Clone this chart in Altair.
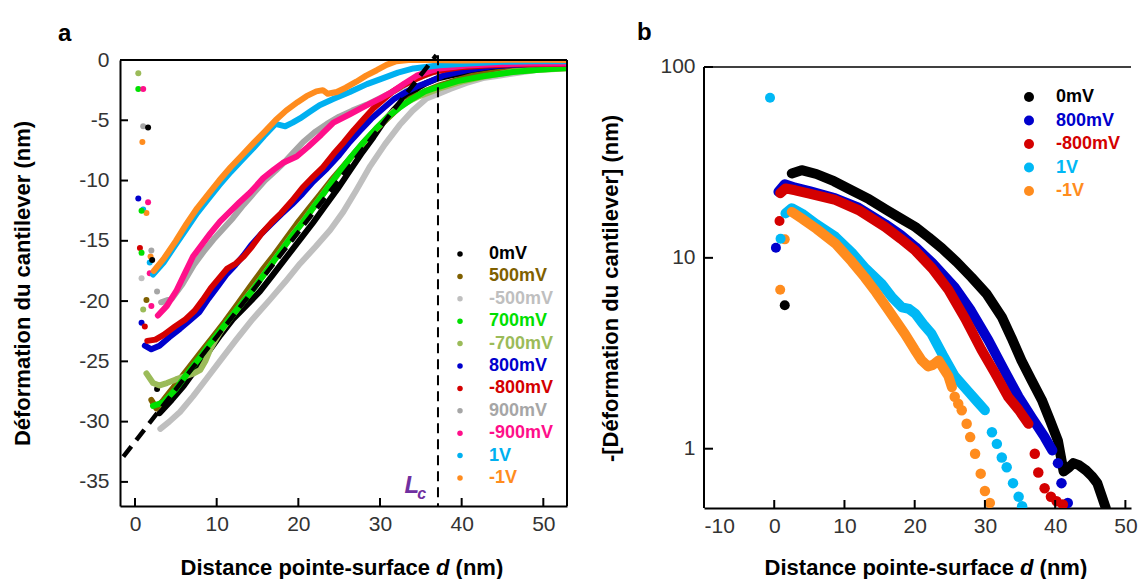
import altair as alt
import pandas as pd

FONT = "Liberation Sans"
LABEL_GRAY = "#333333"

# ---------------- panel a : data ----------------
series_a = ["0mV", "500mV", "-500mV", "700mV", "-700mV", "800mV", "-800mV", "900mV", "-900mV", "1V", "-1V"]
colors_a = ["#000000", "#7f6000", "#bfbfbf", "#00e000", "#9bbb59", "#0000cc", "#d40000", "#a6a6a6", "#ff0f8a", "#00b0f0", "#ff8c1e"]
draw_order_a = ["-500mV", "900mV", "0mV", "500mV", "-700mV", "700mV", "800mV", "-800mV", "-900mV", "1V", "-1V"]

a_0mV_x = [3.0, 4.5, 6.0, 7.5, 9.0, 10.5, 12.0, 13.6, 15.3, 16.9, 18.5, 20.2, 21.8, 23.3, 24.8, 26.3, 27.9, 29.2, 30.4, 31.6, 32.7, 33.7, 34.7, 35.7, 37.0, 38.6, 40.6, 42.6, 45.9, 49.5, 53.0]
a_0mV_y = [-29.3, -28.2, -27.0, -25.6, -24.2, -22.8, -21.5, -20.4, -19.2, -17.8, -16.4, -14.9, -13.5, -12.1, -10.7, -9.2, -7.6, -6.4, -5.2, -4.2, -3.4, -2.8, -2.3, -1.9, -1.55, -1.3, -1.05, -0.85, -0.7, -0.6, -0.5]

a_500_x = [2.0, 2.6, 3.5, 5.0, 6.5, 8.0, 9.5, 11.0, 12.5, 14.1, 15.5, 17.0, 18.5, 19.8, 21.2, 22.6, 24.0, 25.4, 26.8, 28.2, 29.6, 31.0, 32.4, 33.7, 35.5, 37.3, 39.3, 41.4, 43.8, 46.3, 49.5, 53.0]
a_500_y = [-28.2, -28.9, -28.2, -26.9, -25.6, -24.3, -23.0, -21.7, -20.3, -18.8, -17.5, -16.2, -14.8, -13.6, -12.4, -11.2, -10.0, -8.9, -7.8, -6.7, -5.7, -4.8, -3.9, -3.2, -2.6, -2.1, -1.7, -1.3, -1.05, -0.85, -0.7, -0.6]

a_m500_x = [3.1, 4.2, 5.5, 7.1, 8.8, 10.6, 12.4, 14.4, 16.5, 18.4, 20.2, 22.1, 23.9, 25.5, 27.1, 28.8, 30.6, 32.4, 34.0, 35.7, 37.2, 38.6, 40.6, 42.6, 44.5, 46.5, 49.5, 53.0]
a_m500_y = [-30.6, -30.0, -29.2, -27.9, -26.4, -24.8, -23.2, -21.5, -19.9, -18.4, -16.9, -15.5, -14.1, -12.6, -10.8, -8.8, -7.0, -5.4, -4.2, -3.2, -2.8, -2.4, -1.9, -1.5, -1.3, -1.1, -0.8, -0.6]

a_700_x = [2.2, 3.5, 5.0, 6.3, 7.8, 9.2, 10.6, 12.0, 13.3, 14.5, 16.0, 17.5, 19.0, 20.5, 22.0, 23.5, 25.0, 26.5, 28.0, 29.5, 31.0, 32.5, 34.0, 35.5, 37.3, 39.5, 42.6, 46.3, 49.5, 53.0]
a_700_y = [-28.7, -28.4, -27.3, -26.1, -24.8, -23.5, -22.3, -21.1, -20.0, -19.0, -17.6, -16.2, -14.8, -13.5, -12.1, -10.7, -9.3, -8.0, -6.8, -5.7, -4.7, -3.9, -3.2, -2.6, -2.2, -1.75, -1.35, -1.0, -0.8, -0.65]

a_m700_x = [1.4, 2.2, 3.0, 3.9, 5.0, 6.3, 7.2, 8.0, 8.6, 9.2, 10.4, 11.8, 13.3, 14.8, 16.3, 17.8, 19.3, 20.8, 22.3, 23.8, 25.3, 26.8, 28.3, 29.8, 31.1, 32.4, 34.8, 37.3, 40.0, 42.6, 46.3, 49.5, 53.0]
a_m700_y = [-26.0, -26.8, -27.0, -26.8, -26.5, -26.2, -26.0, -25.7, -25.0, -24.0, -22.6, -21.3, -20.0, -18.7, -17.3, -15.9, -14.5, -13.2, -11.8, -10.4, -9.1, -7.8, -6.6, -5.5, -4.6, -3.8, -3.0, -2.35, -1.8, -1.4, -0.95, -0.8, -0.7]

a_800_x = [1.2, 2.0, 3.0, 4.2, 5.5, 6.7, 7.9, 9.0, 10.1, 11.2, 12.3, 13.3, 14.3, 15.5, 16.7, 17.9, 19.2, 20.5, 21.8, 23.5, 25.0, 26.3, 27.5, 28.9, 30.4, 31.8, 33.3, 34.5, 35.7, 37.7, 40.6, 44.0, 48.0, 53.0]
a_800_y = [-23.7, -24.0, -23.7, -23.0, -22.3, -21.6, -20.9, -19.8, -18.8, -17.8, -17.0, -16.2, -15.3, -14.4, -13.6, -12.8, -12.0, -11.1, -10.1, -9.0, -7.9, -6.8, -5.9, -4.9, -4.0, -3.2, -2.6, -2.2, -1.9, -1.3, -0.85, -0.5, -0.35, -0.3]

a_m800_x = [1.5, 2.5, 3.5, 4.9, 6.2, 7.3, 8.3, 9.3, 10.3, 11.3, 12.3, 13.3, 14.3, 15.5, 16.7, 17.9, 19.2, 20.5, 21.8, 23.0, 24.3, 25.6, 26.8, 28.0, 29.2, 30.4, 31.6, 32.8, 34.0, 35.3, 36.5, 38.0, 39.8, 43.0, 47.0, 53.0]
a_m800_y = [-23.3, -23.2, -22.8, -22.1, -21.5, -20.8, -19.9, -18.9, -18.1, -17.3, -16.9, -16.3, -15.5, -14.4, -13.5, -12.7, -11.7, -10.6, -9.7, -8.9, -7.8, -6.8, -5.8, -4.9, -4.0, -3.3, -2.6, -2.1, -1.7, -1.3, -1.0, -0.8, -0.6, -0.45, -0.35, -0.3]

a_900_x = [3.2, 4.5, 5.8, 7.2, 8.4, 9.6, 10.8, 12.0, 13.3, 14.6, 15.9, 17.2, 18.4, 19.5, 20.6, 22.0, 23.5, 25.0, 26.6, 28.4, 30.5, 32.5, 34.5, 37.0, 40.0, 44.0, 48.0, 53.0]
a_900_y = [-20.1, -19.8, -18.6, -17.0, -15.9, -14.9, -14.0, -13.1, -12.0, -11.0, -10.0, -9.2, -8.4, -7.6, -6.8, -6.0, -5.3, -4.7, -4.2, -3.7, -3.0, -2.3, -1.5, -0.9, -0.55, -0.4, -0.3, -0.3]

a_m900_x = [2.8, 3.9, 5.1, 6.1, 7.1, 8.2, 9.2, 10.4, 11.6, 12.8, 14.1, 15.7, 17.0, 18.2, 19.8, 21.2, 22.8, 24.3, 26.3, 28.4, 30.0, 31.6, 33.0, 34.5, 36.0, 37.3, 40.6, 44.0, 48.0, 53.0]
a_m900_y = [-21.2, -20.4, -19.1, -17.7, -16.3, -15.3, -14.4, -13.4, -12.6, -11.8, -11.0, -9.8, -9.1, -8.5, -8.0, -7.2, -6.2, -5.2, -4.5, -3.75, -3.2, -2.6, -1.95, -1.3, -0.95, -0.7, -0.45, -0.35, -0.3, -0.3]

a_1V_x = [2.2, 3.5, 5.0, 6.3, 7.6, 9.0, 10.3, 11.7, 13.1, 14.5, 15.8, 17.2, 18.4, 19.3, 20.2, 21.4, 22.6, 24.4, 26.3, 28.4, 30.4, 32.2, 34.1, 37.3, 41.4, 45.0, 49.0, 53.0]
a_1V_y = [-17.8, -16.8, -15.3, -14.0, -12.7, -11.5, -10.4, -9.3, -8.3, -7.3, -6.3, -5.3, -5.5, -5.2, -4.85, -4.3, -3.75, -3.2, -2.65, -2.0, -1.5, -1.05, -0.7, -0.44, -0.27, -0.15, -0.1, -0.1]

a_m1V_x = [2.3, 3.5, 5.0, 6.3, 7.6, 9.0, 10.3, 11.7, 13.1, 14.5, 15.8, 17.2, 18.5, 19.9, 21.0, 22.2, 23.0, 23.6, 24.7, 25.8, 27.1, 28.3, 29.6, 30.8, 32.0, 33.5, 36.0, 40.0, 44.0, 48.0, 53.0]
a_m1V_y = [-17.5, -16.5, -15.0, -13.6, -12.3, -11.1, -10.0, -8.9, -7.9, -6.9, -6.0, -5.0, -4.2, -3.5, -3.0, -2.6, -2.5, -2.8, -2.65, -2.3, -1.8, -1.3, -0.85, -0.4, -0.1, 0.0, 0.0, -0.05, 0.0, 0.05, 0.0]

# isolated points measured before contact (jump points)
a_jump_series = ["-700mV", "700mV", "-900mV", "900mV", "0mV", "-1V",
                 "800mV", "-900mV", "1V", "-1V", "700mV",
                 "-800mV", "700mV", "1V", "-1V", "900mV", "0mV", "-900mV",
                 "-500mV", "900mV", "500mV", "-700mV", "-900mV",
                 "800mV", "-800mV", "0mV"]
a_jump_x = [0.4, 0.4, 1.0, 1.0, 1.6, 0.9,
            0.4, 1.6, 1.0, 1.4, 0.8,
            0.6, 0.8, 1.8, 1.9, 2.0, 2.1, 1.8,
            0.8, 2.7, 1.4, 1.0, 2.0,
            0.8, 1.2, 2.7]
a_jump_y = [-1.1, -2.4, -2.4, -5.5, -5.6, -6.8,
            -11.5, -11.8, -12.4, -12.7, -12.5,
            -15.6, -16.0, -16.8, -16.3, -15.8, -16.6, -17.7,
            -18.1, -19.2, -19.9, -20.7, -20.4,
            -21.8, -22.1, -27.3]

fit_x = [-1.43, 36.9]
fit_y = [-32.9, 0.4]
lc_pos_x = [37.1]
lc_y_top = [0.4]
lc_y_bot = [-37.0]
lc_label_x = [33.9, 35.1]
lc_label_y = [-35.3, -36.0]
lc_label_t = ["L", "c"]

ticks_a_x = [0, 10, 20, 30, 40, 50]
ticks_a_y = [0, -5, -10, -15, -20, -25, -30, -35]

# ---------------- panel b : data ----------------
series_b = ["0mV", "800mV", "-800mV", "1V", "-1V"]
colors_b = ["#000000", "#0000cc", "#d40000", "#00b8f5", "#ff8c1e"]
draw_order_b = ["0mV", "800mV", "-800mV", "1V", "-1V"]

b_0mV_x = [2.5, 3.9, 6.0, 8.5, 11.0, 13.5, 16.0, 18.0, 20.1, 22.0, 23.9, 26.0, 28.1, 30.2, 32.4, 33.8, 35.2, 36.6, 38.1, 39.3, 40.4, 41.2, 42.0, 42.6, 43.4, 44.4, 45.2, 46.0, 46.6, 47.2]
b_0mV_y = [27.7, 28.8, 27.5, 25.2, 22.6, 20.3, 17.8, 16.1, 14.5, 12.8, 11.2, 9.5, 7.9, 6.5, 4.9, 3.8, 2.9, 2.3, 1.8, 1.4, 1.1, 0.76, 0.80, 0.84, 0.82, 0.77, 0.72, 0.66, 0.57, 0.49]

b_800_x = [0.6, 1.5, 3.0, 5.0, 8.7, 12.0, 15.8, 18.0, 20.1, 22.5, 25.7, 28.0, 30.5, 32.7, 34.8, 36.7, 38.5, 39.6]
b_800_y = [22.2, 24.3, 23.3, 22.4, 20.5, 18.3, 15.0, 13.2, 11.4, 9.4, 7.0, 5.3, 3.7, 2.6, 1.87, 1.45, 1.15, 0.98]
b_800_dot_x = [40.4, 40.9, 41.8]
b_800_dot_y = [0.84, 0.66, 0.52]

b_m800_x = [0.85, 1.6, 3.0, 5.0, 8.7, 12.0, 15.8, 18.0, 20.1, 22.5, 24.8, 27.2, 29.5, 31.4, 33.3, 34.8, 36.2]
b_m800_y = [21.8, 23.1, 22.6, 21.7, 20.1, 17.8, 14.5, 12.6, 10.9, 8.8, 6.8, 4.8, 3.3, 2.5, 1.87, 1.6, 1.35]
b_m800_dot_x = [37.1, 37.6, 38.5, 39.4, 40.2, 41.1]
b_m800_dot_y = [0.94, 0.75, 0.62, 0.56, 0.53, 0.51]

b_1V_x = [1.6, 2.5, 4.0, 6.0, 8.7, 11.0, 13.0, 15.3, 16.8, 18.2, 19.2, 20.1, 21.2, 22.4, 24.0, 25.7, 27.6, 29.0, 30.0]
b_1V_y = [17.1, 18.2, 17.0, 15.0, 12.9, 10.7, 8.8, 7.3, 6.2, 5.5, 5.4, 5.1, 4.5, 4.0, 3.1, 2.4, 2.0, 1.75, 1.59]
b_1V_dot_x = [31.0, 31.7, 32.4, 33.1, 34.0, 34.8, 35.3]
b_1V_dot_y = [1.22, 1.06, 0.90, 0.80, 0.66, 0.56, 0.50]

b_m1V_x = [2.5, 4.0, 6.0, 8.7, 11.0, 12.9, 14.5, 16.3, 18.6, 20.0, 21.0, 21.9, 22.6, 23.4, 24.2, 24.8, 25.3]
b_m1V_y = [17.4, 16.0, 14.2, 11.9, 9.6, 7.9, 6.6, 5.3, 4.0, 3.3, 2.9, 2.7, 2.75, 2.9, 2.6, 2.4, 2.1]
b_m1V_dot_x = [25.7, 26.2, 26.7, 27.4, 27.9, 28.6, 29.4, 30.0, 30.7]
b_m1V_dot_y = [1.87, 1.72, 1.59, 1.35, 1.15, 0.94, 0.74, 0.60, 0.52]

b_jump_series = ["1V", "-1V", "-1V", "0mV", "-800mV", "800mV", "1V"]
b_jump_x = [-0.6, 1.5, 0.85, 1.5, 0.75, 0.24, 0.9]
b_jump_y = [69.0, 12.5, 6.8, 5.65, 15.6, 11.3, 12.6]

ticks_b_x = [-10, 0, 10, 20, 30, 40, 50]
ticks_b_y = [1, 10, 100]
frame_b_lo = [0.489]
frame_b_hi = [100]

# ---------------- tables ----------------
curves_a = {
    "0mV": (a_0mV_x, a_0mV_y), "500mV": (a_500_x, a_500_y), "-500mV": (a_m500_x, a_m500_y),
    "700mV": (a_700_x, a_700_y), "-700mV": (a_m700_x, a_m700_y), "800mV": (a_800_x, a_800_y),
    "-800mV": (a_m800_x, a_m800_y), "900mV": (a_900_x, a_900_y), "-900mV": (a_m900_x, a_m900_y),
    "1V": (a_1V_x, a_1V_y), "-1V": (a_m1V_x, a_m1V_y),
}
curves_b = {
    "0mV": (b_0mV_x, b_0mV_y), "800mV": (b_800_x, b_800_y), "-800mV": (b_m800_x, b_m800_y),
    "1V": (b_1V_x, b_1V_y), "-1V": (b_m1V_x, b_m1V_y),
}
dots_b = {
    "800mV": (b_800_dot_x, b_800_dot_y), "-800mV": (b_m800_dot_x, b_m800_dot_y),
    "1V": (b_1V_dot_x, b_1V_dot_y), "-1V": (b_m1V_dot_x, b_m1V_dot_y),
}


def curve_df(name, xs, ys):
    return pd.DataFrame({"series": name, "x": xs, "y": ys, "j": list(range(len(xs)))})


def label_color_expr(names, cols):
    arr_c = "[" + ",".join("'%s'" % c for c in cols) + "]"
    arr_n = "[" + ",".join("'%s'" % n for n in names) + "]"
    return "%s[indexof(%s, datum.value)]" % (arr_c, arr_n)


def text_layer(txt, x, y, **kw):
    return alt.Chart(pd.DataFrame({"t": [txt]})).mark_text(**kw).encode(
        x=alt.value(x), y=alt.value(y), text="t:N")


def xtitle_layers(y):
    common = dict(font=FONT, fontSize=22, fontWeight="bold", color="black", baseline="middle")
    return [
        text_layer("Distance pointe-surface", 310, y, align="right", **common),
        text_layer("d", 322.8, y, align="center", fontStyle="italic", **common),
        text_layer("(nm)", 335.6, y, align="left", **common),
    ]


HYPHEN = "'' + datum.value"

# ---------------- panel a ----------------
W_A, H_A = 447, 446
x_a = alt.Scale(domain=[-1.84, 52.9], nice=False, zero=False)
y_a = alt.Scale(domain=[-37, 0], nice=False, zero=False)
c_a = alt.Scale(domain=series_a, range=colors_a)

legend_a = alt.Legend(
    title="", orient="none", legendX=331, legendY=185, direction="vertical",
    symbolType="circle", symbolSize=30, symbolStrokeWidth=0,
    labelFont=FONT, labelFontSize=18, labelFontWeight="bold",
    labelColor=alt.ExprRef(expr=label_color_expr(series_a, colors_a)),
    labelOffset=20, rowPadding=4.4, padding=0,
)

jump_a_df = pd.DataFrame({"series": a_jump_series, "x": a_jump_x, "y": a_jump_y})
jump_a = alt.Chart(jump_a_df).mark_circle(size=36, opacity=1, clip=True).encode(
    x=alt.X("x:Q", scale=x_a, title="",
            axis=alt.Axis(values=ticks_a_x, labelExpr=HYPHEN, labelPadding=7, labelFontSize=21, ticks=False,
                          domain=True, domainColor="black", domainWidth=2, grid=False)),
    y=alt.Y("y:Q", scale=y_a, title="Déformation du cantilever (nm)",
            axis=alt.Axis(values=ticks_a_y, labelExpr=HYPHEN, labelPadding=11, labelFontSize=21, ticks=False,
                          domain=True, domainColor="black", domainWidth=2, grid=False,
                          titleX=-98, titleY=H_A / 2, titleAngle=-90, titleBaseline="middle",
                          titleAlign="center", titleFontSize=22, titleFontWeight="bold",
                          titleFont=FONT, titleColor="black")),
    color=alt.Color("series:N", scale=c_a, legend=legend_a),
)

line_layers_a = []
for s in draw_order_a:
    xs, ys = curves_a[s]
    line_layers_a.append(
        alt.Chart(curve_df(s, xs, ys)).mark_line(strokeWidth=6, clip=True, strokeCap="round", strokeJoin="round").encode(
            x=alt.X("x:Q", scale=x_a), y=alt.Y("y:Q", scale=y_a), order="j:Q",
            color=alt.Color("series:N", scale=c_a, legend=None))
    )

fit_a = alt.Chart(pd.DataFrame({"x": fit_x, "y": fit_y})).mark_line(
    color="black", strokeWidth=4.5, strokeDash=[13, 8]).encode(
    x=alt.X("x:Q", scale=x_a), y=alt.Y("y:Q", scale=y_a))

lc_rule = alt.Chart(pd.DataFrame({"x": lc_pos_x, "y": lc_y_top, "y2": lc_y_bot})).mark_rule(
    color="black", strokeWidth=2, strokeDash=[10, 6]).encode(
    x=alt.X("x:Q", scale=x_a), y=alt.Y("y:Q", scale=y_a), y2="y2:Q")

lc_L = alt.Chart(pd.DataFrame({"x": lc_label_x[:1], "y": lc_label_y[:1], "t": lc_label_t[:1]})).mark_text(
    font=FONT, fontSize=24, fontStyle="italic", fontWeight="bold", color="#7030a0", baseline="middle", align="center").encode(
    x=alt.X("x:Q", scale=x_a), y=alt.Y("y:Q", scale=y_a), text="t:N")
lc_c = alt.Chart(pd.DataFrame({"x": lc_label_x[1:], "y": lc_label_y[1:], "t": lc_label_t[1:]})).mark_text(
    font=FONT, fontSize=16, fontStyle="italic", fontWeight="bold", color="#7030a0", baseline="middle", align="center").encode(
    x=alt.X("x:Q", scale=x_a), y=alt.Y("y:Q", scale=y_a), text="t:N")

tick_x_a = alt.Chart(pd.DataFrame({"v": ticks_a_x})).mark_rule(color="black", strokeWidth=2).encode(
    x=alt.X("v:Q", scale=x_a), y=alt.value(H_A), y2=alt.value(H_A - 8))
tick_y_a = alt.Chart(pd.DataFrame({"v": ticks_a_y})).mark_rule(color="black", strokeWidth=2).encode(
    y=alt.Y("v:Q", scale=y_a), x=alt.value(0), x2=alt.value(8))
frame_a = alt.Chart(pd.DataFrame({"v": [0]})).mark_rule(color="black", strokeWidth=2).encode(
    x=alt.value(0), x2=alt.value(W_A), y=alt.value(0))
frame_a_r = alt.Chart(pd.DataFrame({"v": [0]})).mark_rule(color="black", strokeWidth=2).encode(
    x=alt.value(W_A), y=alt.value(0), y2=alt.value(H_A))

panel_a = alt.layer(
    jump_a, *line_layers_a, frame_a, frame_a_r, tick_x_a, tick_y_a, fit_a, lc_rule, lc_L, lc_c,
    *xtitle_layers(H_A + 62)
).properties(
    width=W_A, height=H_A,
    title=alt.TitleParams("a", anchor="start", frame="group", dx=-62, offset=0, fontSize=24,
                          fontWeight="bold", font=FONT, color="black"),
)

# ---------------- panel b ----------------
# the plot group starts 7px above the frame line at 100 (same group top as panel a)
W_B, H_B = 427, 448
x_b = alt.Scale(domain=[-10, 50.8], nice=False, zero=False)
y_b = alt.Scale(type="log", domain=[0.489, 108.8], nice=False)
c_b = alt.Scale(domain=series_b, range=colors_b)

legend_b = alt.Legend(
    title="", orient="none", legendX=316, legendY=28, direction="vertical",
    symbolType="circle", symbolSize=100, symbolStrokeWidth=0,
    labelFont=FONT, labelFontSize=18, labelFontWeight="bold",
    labelColor=alt.ExprRef(expr=label_color_expr(series_b, colors_b)),
    labelOffset=18, rowPadding=5.5, padding=0,
)

jump_b_df = pd.DataFrame({"series": b_jump_series, "x": b_jump_x, "y": b_jump_y})
jump_b = alt.Chart(jump_b_df).mark_circle(size=100, opacity=1, clip=True).encode(
    x=alt.X("x:Q", scale=x_b, title="",
            axis=alt.Axis(values=ticks_b_x, labelExpr=HYPHEN, labelPadding=7, labelFontSize=21, ticks=False,
                          domain=True, domainColor="black", domainWidth=2, grid=False)),
    y=alt.Y("y:Q", scale=y_b, title="-[Déformation du cantilever] (nm)",
            axis=alt.Axis(values=ticks_b_y, labelExpr=HYPHEN, labelPadding=9, labelFontSize=21, ticks=False,
                          domain=False, grid=False,
                          titleX=-94, titleY=228, titleAngle=-90, titleBaseline="middle",
                          titleAlign="center", titleFontSize=22, titleFontWeight="bold",
                          titleFont=FONT, titleColor="black")),
    color=alt.Color("series:N", scale=c_b, legend=legend_b),
)

layers_b = []
for s in draw_order_b:
    xs, ys = curves_b[s]
    layers_b.append(
        alt.Chart(curve_df(s, xs, ys)).mark_line(strokeWidth=10, clip=True, strokeCap="round", strokeJoin="round").encode(
            x=alt.X("x:Q", scale=x_b), y=alt.Y("y:Q", scale=y_b), order="j:Q",
            color=alt.Color("series:N", scale=c_b, legend=None))
    )
    if s in dots_b:
        dx, dy = dots_b[s]
        layers_b.append(
            alt.Chart(curve_df(s, dx, dy)).mark_circle(size=110, opacity=1, clip=True).encode(
                x=alt.X("x:Q", scale=x_b), y=alt.Y("y:Q", scale=y_b),
                color=alt.Color("series:N", scale=c_b, legend=None))
        )

tick_x_b = alt.Chart(pd.DataFrame({"v": ticks_b_x})).mark_rule(color="black", strokeWidth=2).encode(
    x=alt.X("v:Q", scale=x_b), y=alt.value(H_B), y2=alt.value(H_B - 8))
tick_y_b = alt.Chart(pd.DataFrame({"v": ticks_b_y})).mark_rule(color="black", strokeWidth=2).encode(
    y=alt.Y("v:Q", scale=y_b), x=alt.value(0), x2=alt.value(9))
frame_b = alt.Chart(pd.DataFrame({"v": frame_b_hi})).mark_rule(color="black", strokeWidth=1.5).encode(
    y=alt.Y("v:Q", scale=y_b), x=alt.value(0), x2=alt.value(W_B))
frame_b_left = alt.Chart(pd.DataFrame({"lo": frame_b_lo, "hi": frame_b_hi})).mark_rule(
    color="black", strokeWidth=2).encode(
    y=alt.Y("lo:Q", scale=y_b), y2="hi:Q", x=alt.value(0))

panel_b = alt.layer(
    jump_b, *layers_b, frame_b, frame_b_left, tick_x_b, tick_y_b, *xtitle_layers(H_B + 60)
).properties(
    width=W_B, height=H_B,
    title=alt.TitleParams("b", anchor="start", frame="group", dx=-67, offset=11, fontSize=24,
                          fontWeight="bold", font=FONT, color="black"),
)

chart = alt.hconcat(panel_a, panel_b, spacing=30).resolve_scale(color="independent").properties(
    padding={"left": 2, "top": 12, "right": 0, "bottom": 0}
).configure(font=FONT).configure_view(stroke=None).configure_axis(
    labelFont=FONT, labelColor=LABEL_GRAY, grid=False
)

chart.save("out.html", embed_options={"renderer": "svg", "actions": False})
